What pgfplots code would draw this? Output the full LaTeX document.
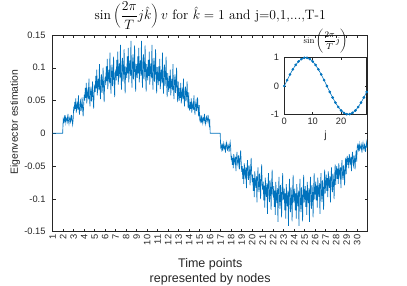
\RequirePackage{fix-cm}
\documentclass[border=0pt]{standalone}
\usepackage{pgfplots}
\pgfplotsset{compat=1.18}
\usepackage{fontspec}
\setsansfont{Liberation Sans}
\definecolor{mblue}{rgb}{0,0.447,0.741}
\definecolor{axgray}{rgb}{0.15,0.15,0.15}
\begin{document}
\begin{tikzpicture}[x=1pt,y=1pt]
\useasboundingbox (0,0) rectangle (407,285);
\begin{axis}[
  at={(52.7pt,53.4pt)}, anchor=south west,
  scale only axis, width=315pt, height=196.6pt,
  xmin=0, xmax=600, ymin=-0.15, ymax=0.15,
  xtick={0,20,...,580},
  xticklabels={1,2,3,4,5,6,7,8,9,10,11,12,13,14,15,16,17,18,19,20,21,22,23,24,25,26,27,28,29,30},
  ytick={-0.15,-0.1,-0.05,0,0.05,0.1,0.15},
  yticklabels={-0.15,-0.1,-0.05,0,0.05,0.1,0.15},
  tick align=inside, major tick length=3pt,
  axis line style={axgray, line width=0.5pt},
  tick style={axgray, line width=0.5pt},
  every tick label/.append style={text=axgray, font=\sffamily\fontsize{9.3}{11}\selectfont, inner sep=0pt},
  xticklabel style={rotate=90, anchor=east},
  xticklabel shift=3pt,
  yticklabel shift=7pt,
  title={$\displaystyle\sin\,\biggl(\frac{2\pi}{T}j\hat{k}\biggr)\,v$ for $\hat{k}=1$ and j=0,1,...,T-1},
  title style={at={(axis description cs:0.5,1.0687)}, anchor=center, inner sep=0pt, font=\fontsize{13.6}{16}\selectfont},
  xlabel={Time points\\represented by nodes},
  xlabel style={at={(axis description cs:0.5,-0.205)}, anchor=center, align=center, font=\sffamily\fontsize{12.5}{14.6}\selectfont, text=axgray},
  ylabel={Eigenvector estimation},
  ylabel style={at={(axis description cs:-0.119,0.557)}, anchor=center, font=\sffamily\fontsize{10.4}{12}\selectfont, text=axgray},
]
\addplot[color=mblue, line width=0.65pt] table[x expr=\coordindex, y index=0, row sep=\\] {
y\\
0\\ 0\\ 0\\ 0\\ 0\\ 0\\ 0\\ 0\\ 0\\ 0\\ 0\\ 0\\ 0\\ 0\\ 0\\ 0\\ 0\\ 0\\ 0\\ 0\\
0.0208\\ 0.0177\\ 0.0245\\ 0.0191\\ 0.0272\\ 0.0162\\ 0.0216\\ 0.0233\\ 0.0183\\ 0.0295\\ 0.0198\\ 0.0146\\ 0.0225\\ 0.0252\\ 0.0173\\ 0.0206\\ 0.0281\\ 0.0187\\ 0.0133\\ 0.0220\\
0.0407\\ 0.0346\\ 0.0480\\ 0.0374\\ 0.0533\\ 0.0317\\ 0.0423\\ 0.0456\\ 0.0358\\ 0.0578\\ 0.0386\\ 0.0285\\ 0.0439\\ 0.0492\\ 0.0338\\ 0.0403\\ 0.0549\\ 0.0366\\ 0.0260\\ 0.0431\\
0.0588\\ 0.0500\\ 0.0694\\ 0.0541\\ 0.0770\\ 0.0458\\ 0.0611\\ 0.0658\\ 0.0517\\ 0.0835\\ 0.0558\\ 0.0411\\ 0.0635\\ 0.0711\\ 0.0488\\ 0.0582\\ 0.0794\\ 0.0529\\ 0.0376\\ 0.0623\\
0.0743\\ 0.0632\\ 0.0877\\ 0.0684\\ 0.0973\\ 0.0580\\ 0.0773\\ 0.0832\\ 0.0654\\ 0.1055\\ 0.0706\\ 0.0520\\ 0.0803\\ 0.0899\\ 0.0617\\ 0.0736\\ 0.1003\\ 0.0669\\ 0.0476\\ 0.0788\\
0.0866\\ 0.0736\\ 0.1022\\ 0.0797\\ 0.1134\\ 0.0675\\ 0.0901\\ 0.0970\\ 0.0762\\ 0.1230\\ 0.0823\\ 0.0606\\ 0.0935\\ 0.1048\\ 0.0719\\ 0.0857\\ 0.1169\\ 0.0779\\ 0.0554\\ 0.0918\\
0.0951\\ 0.0808\\ 0.1122\\ 0.0875\\ 0.1246\\ 0.0742\\ 0.0989\\ 0.1065\\ 0.0837\\ 0.1351\\ 0.0904\\ 0.0666\\ 0.1027\\ 0.1151\\ 0.0789\\ 0.0942\\ 0.1284\\ 0.0856\\ 0.0609\\ 0.1008\\
0.0995\\ 0.0845\\ 0.1174\\ 0.0915\\ 0.1303\\ 0.0776\\ 0.1034\\ 0.1114\\ 0.0875\\ 0.1412\\ 0.0945\\ 0.0696\\ 0.1074\\ 0.1203\\ 0.0825\\ 0.0985\\ 0.1343\\ 0.0895\\ 0.0636\\ 0.1054\\
0.0995\\ 0.0845\\ 0.1174\\ 0.0915\\ 0.1303\\ 0.0776\\ 0.1034\\ 0.1114\\ 0.0875\\ 0.1412\\ 0.0945\\ 0.0696\\ 0.1074\\ 0.1203\\ 0.0825\\ 0.0985\\ 0.1343\\ 0.0895\\ 0.0636\\ 0.1054\\
0.0951\\ 0.0808\\ 0.1122\\ 0.0875\\ 0.1246\\ 0.0742\\ 0.0989\\ 0.1065\\ 0.0837\\ 0.1351\\ 0.0904\\ 0.0666\\ 0.1027\\ 0.1151\\ 0.0789\\ 0.0942\\ 0.1284\\ 0.0856\\ 0.0609\\ 0.1008\\
0.0866\\ 0.0736\\ 0.1022\\ 0.0797\\ 0.1134\\ 0.0675\\ 0.0901\\ 0.0970\\ 0.0762\\ 0.1230\\ 0.0823\\ 0.0606\\ 0.0935\\ 0.1048\\ 0.0719\\ 0.0857\\ 0.1169\\ 0.0779\\ 0.0554\\ 0.0918\\
0.0743\\ 0.0632\\ 0.0877\\ 0.0684\\ 0.0973\\ 0.0580\\ 0.0773\\ 0.0832\\ 0.0654\\ 0.1055\\ 0.0706\\ 0.0520\\ 0.0803\\ 0.0899\\ 0.0617\\ 0.0736\\ 0.1003\\ 0.0669\\ 0.0476\\ 0.0788\\
0.0588\\ 0.0500\\ 0.0694\\ 0.0541\\ 0.0770\\ 0.0458\\ 0.0611\\ 0.0658\\ 0.0517\\ 0.0835\\ 0.0558\\ 0.0411\\ 0.0635\\ 0.0711\\ 0.0488\\ 0.0582\\ 0.0794\\ 0.0529\\ 0.0376\\ 0.0623\\
0.0407\\ 0.0346\\ 0.0480\\ 0.0374\\ 0.0533\\ 0.0317\\ 0.0423\\ 0.0456\\ 0.0358\\ 0.0578\\ 0.0386\\ 0.0285\\ 0.0439\\ 0.0492\\ 0.0338\\ 0.0403\\ 0.0549\\ 0.0366\\ 0.0260\\ 0.0431\\
0.0208\\ 0.0177\\ 0.0245\\ 0.0191\\ 0.0272\\ 0.0162\\ 0.0216\\ 0.0233\\ 0.0183\\ 0.0295\\ 0.0198\\ 0.0146\\ 0.0225\\ 0.0252\\ 0.0173\\ 0.0206\\ 0.0281\\ 0.0187\\ 0.0133\\ 0.0220\\
0\\ 0\\ 0\\ 0\\ 0\\ 0\\ 0\\ 0\\ 0\\ 0\\ 0\\ 0\\ 0\\ 0\\ 0\\ 0\\ 0\\ 0\\ 0\\ 0\\
-0.0208\\ -0.0177\\ -0.0245\\ -0.0191\\ -0.0272\\ -0.0162\\ -0.0216\\ -0.0233\\ -0.0183\\ -0.0295\\ -0.0198\\ -0.0146\\ -0.0225\\ -0.0252\\ -0.0173\\ -0.0206\\ -0.0281\\ -0.0187\\ -0.0133\\ -0.0220\\
-0.0407\\ -0.0346\\ -0.0480\\ -0.0374\\ -0.0533\\ -0.0317\\ -0.0423\\ -0.0456\\ -0.0358\\ -0.0578\\ -0.0386\\ -0.0285\\ -0.0439\\ -0.0492\\ -0.0338\\ -0.0403\\ -0.0549\\ -0.0366\\ -0.0260\\ -0.0431\\
-0.0588\\ -0.0500\\ -0.0694\\ -0.0541\\ -0.0770\\ -0.0458\\ -0.0611\\ -0.0658\\ -0.0517\\ -0.0835\\ -0.0558\\ -0.0411\\ -0.0635\\ -0.0711\\ -0.0488\\ -0.0582\\ -0.0794\\ -0.0529\\ -0.0376\\ -0.0623\\
-0.0743\\ -0.0632\\ -0.0877\\ -0.0684\\ -0.0973\\ -0.0580\\ -0.0773\\ -0.0832\\ -0.0654\\ -0.1055\\ -0.0706\\ -0.0520\\ -0.0803\\ -0.0899\\ -0.0617\\ -0.0736\\ -0.1003\\ -0.0669\\ -0.0476\\ -0.0788\\
-0.0866\\ -0.0736\\ -0.1022\\ -0.0797\\ -0.1134\\ -0.0675\\ -0.0901\\ -0.0970\\ -0.0762\\ -0.1230\\ -0.0823\\ -0.0606\\ -0.0935\\ -0.1048\\ -0.0719\\ -0.0857\\ -0.1169\\ -0.0779\\ -0.0554\\ -0.0918\\
-0.0951\\ -0.0808\\ -0.1122\\ -0.0875\\ -0.1246\\ -0.0742\\ -0.0989\\ -0.1065\\ -0.0837\\ -0.1351\\ -0.0904\\ -0.0666\\ -0.1027\\ -0.1151\\ -0.0789\\ -0.0942\\ -0.1284\\ -0.0856\\ -0.0609\\ -0.1008\\
-0.0995\\ -0.0845\\ -0.1174\\ -0.0915\\ -0.1303\\ -0.0776\\ -0.1034\\ -0.1114\\ -0.0875\\ -0.1412\\ -0.0945\\ -0.0696\\ -0.1074\\ -0.1203\\ -0.0825\\ -0.0985\\ -0.1343\\ -0.0895\\ -0.0636\\ -0.1054\\
-0.0995\\ -0.0845\\ -0.1174\\ -0.0915\\ -0.1303\\ -0.0776\\ -0.1034\\ -0.1114\\ -0.0875\\ -0.1412\\ -0.0945\\ -0.0696\\ -0.1074\\ -0.1203\\ -0.0825\\ -0.0985\\ -0.1343\\ -0.0895\\ -0.0636\\ -0.1054\\
-0.0951\\ -0.0808\\ -0.1122\\ -0.0875\\ -0.1246\\ -0.0742\\ -0.0989\\ -0.1065\\ -0.0837\\ -0.1351\\ -0.0904\\ -0.0666\\ -0.1027\\ -0.1151\\ -0.0789\\ -0.0942\\ -0.1284\\ -0.0856\\ -0.0609\\ -0.1008\\
-0.0866\\ -0.0736\\ -0.1022\\ -0.0797\\ -0.1134\\ -0.0675\\ -0.0901\\ -0.0970\\ -0.0762\\ -0.1230\\ -0.0823\\ -0.0606\\ -0.0935\\ -0.1048\\ -0.0719\\ -0.0857\\ -0.1169\\ -0.0779\\ -0.0554\\ -0.0918\\
-0.0743\\ -0.0632\\ -0.0877\\ -0.0684\\ -0.0973\\ -0.0580\\ -0.0773\\ -0.0832\\ -0.0654\\ -0.1055\\ -0.0706\\ -0.0520\\ -0.0803\\ -0.0899\\ -0.0617\\ -0.0736\\ -0.1003\\ -0.0669\\ -0.0476\\ -0.0788\\
-0.0588\\ -0.0500\\ -0.0694\\ -0.0541\\ -0.0770\\ -0.0458\\ -0.0611\\ -0.0658\\ -0.0517\\ -0.0835\\ -0.0558\\ -0.0411\\ -0.0635\\ -0.0711\\ -0.0488\\ -0.0582\\ -0.0794\\ -0.0529\\ -0.0376\\ -0.0623\\
-0.0407\\ -0.0346\\ -0.0480\\ -0.0374\\ -0.0533\\ -0.0317\\ -0.0423\\ -0.0456\\ -0.0358\\ -0.0578\\ -0.0386\\ -0.0285\\ -0.0439\\ -0.0492\\ -0.0338\\ -0.0403\\ -0.0549\\ -0.0366\\ -0.0260\\ -0.0431\\
-0.0208\\ -0.0177\\ -0.0245\\ -0.0191\\ -0.0272\\ -0.0162\\ -0.0216\\ -0.0233\\ -0.0183\\ -0.0295\\ -0.0198\\ -0.0146\\ -0.0225\\ -0.0252\\ -0.0173\\ -0.0206\\ -0.0281\\ -0.0187\\ -0.0133\\ -0.0220\\
};
\end{axis}
\begin{axis}[
  at={(284.3pt,170.7pt)}, anchor=south west,
  scale only axis, width=82.4pt, height=56.6pt,
  xmin=0, xmax=29, ymin=-1, ymax=1,
  axis background/.style={fill=white},
  xtick={0,10,20}, xticklabels={0,10,20},
  ytick={-1,0,1}, yticklabels={-1,0,1},
  tick align=inside, major tick length=2pt,
  axis line style={axgray, line width=0.5pt},
  tick style={axgray, line width=0.5pt},
  every tick label/.append style={text=axgray, font=\sffamily\fontsize{9.3}{11}\selectfont, inner sep=0pt},
  xticklabel shift=3.5pt,
  yticklabel shift=5pt,
  title={$\displaystyle\sin\,\biggl(\frac{2\pi}{T}j\biggr)$},
  title style={at={(axis description cs:0.5,1.189)}, anchor=center, inner sep=0pt, font=\fontsize{8.6}{10}\selectfont},
  xlabel={j},
  xlabel style={at={(axis description cs:0.5,-0.383)}, anchor=center, font=\sffamily\fontsize{10.4}{12}\selectfont, text=axgray},
]
\addplot[color=mblue, line width=0.6pt, mark=*, mark size=1pt, mark options={fill=mblue}] coordinates {
(0,0) (1,0.2079) (2,0.4067) (3,0.5878) (4,0.7431) (5,0.8660) (6,0.9511) (7,0.9945) (8,0.9945) (9,0.9511)
(10,0.8660) (11,0.7431) (12,0.5878) (13,0.4067) (14,0.2079) (15,0) (16,-0.2079) (17,-0.4067) (18,-0.5878) (19,-0.7431)
(20,-0.8660) (21,-0.9511) (22,-0.9945) (23,-0.9945) (24,-0.9511) (25,-0.8660) (26,-0.7431) (27,-0.5878) (28,-0.4067) (29,-0.2079)
};
\end{axis}
\end{tikzpicture}
\end{document}
